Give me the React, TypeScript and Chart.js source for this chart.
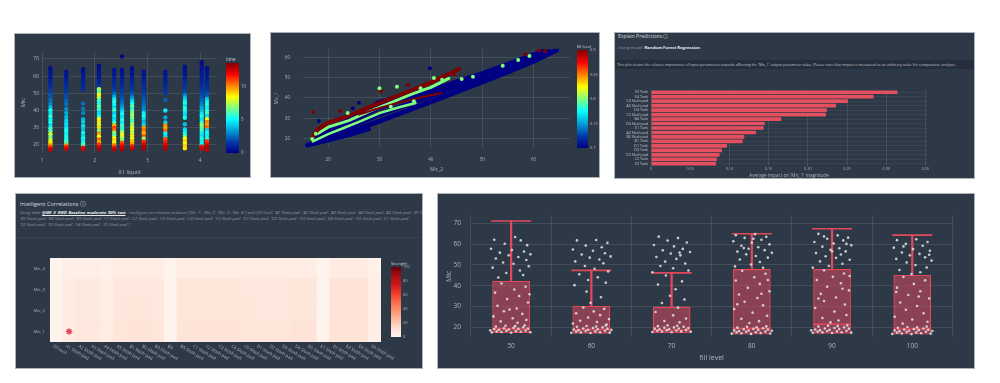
import React, { useEffect, useRef } from 'react';
import { Chart, registerables } from 'chart.js';
Chart.register(...registerables);

// ---------------- Panel 1 data: Mic vs A1 liquid, colored by time ----------------
const A1_LIQUID_POSITIONS = [1.16, 1.46, 1.78, 2.08, 2.37, 2.52, 2.71, 2.93, 3.34, 3.71, 4.03, 4.13];
const COL_1 = [[64.6,0.4],[63.2,0.5],[61.8,0.6],[60.5,0.8],[59.0,0.7],[57.6,1.0],[56.1,1.1],[54.8,1.2],[53.3,1.4],[51.0,1.8],[48.6,2.2],[46.2,2.6],[44.0,3.0],[42.1,3.8],[40.2,5.2],[38.5,4.6],[36.7,5.6],[34.8,4.9],[33.0,5.3],[31.2,4.4],[29.6,5.8],[27.9,6.3],[26.2,8.0],[24.6,6.6],[23.0,7.6],[21.6,8.6],[20.3,9.4],[19.1,10.6],[18.0,11.8],[17.2,12.6]];
const COL_2 = [[62.6,0.5],[61.0,0.7],[59.5,0.6],[58.0,0.9],[56.6,1.0],[55.0,1.2],[53.2,1.3],[51.0,1.6],[48.5,2.0],[46.0,2.4],[43.8,2.7],[41.0,3.1],[38.6,3.6],[36.2,3.9],[34.0,4.3],[32.2,4.7],[30.6,4.5],[29.0,5.0],[27.5,5.4],[26.0,4.8],[24.6,5.6],[23.2,5.2],[22.0,5.9],[20.8,6.2],[19.7,10.2],[18.6,11.5],[17.6,12.4]];
const COL_3 = [[64.0,0.4],[62.6,0.5],[61.2,0.6],[59.8,0.7],[58.3,0.8],[56.8,0.9],[55.4,1.0],[53.8,1.1],[52.2,1.3],[44.0,2.6],[41.0,2.8],[38.5,3.0],[35.0,3.8],[33.4,4.2],[31.0,4.6],[29.2,4.0],[27.0,5.0],[25.3,4.4],[23.8,5.2],[22.4,4.8],[21.0,5.6],[19.6,6.0],[18.4,11.8],[17.5,12.5]];
const COL_4 = [[66.0,0.3],[64.6,0.4],[63.2,0.5],[61.8,0.6],[60.3,0.7],[58.9,0.8],[57.4,0.9],[55.9,1.1],[54.2,1.6],[52.4,7.2],[50.8,6.2],[49.2,8.6],[47.5,7.6],[45.8,6.0],[44.1,5.4],[42.4,6.4],[40.7,5.8],[38.9,4.6],[37.0,5.0],[35.2,8.2],[33.5,8.8],[31.8,7.8],[30.1,9.0],[28.3,6.6],[26.6,10.0],[24.9,8.4],[23.2,10.4],[21.6,9.6],[20.2,11.2],[18.8,12.0],[17.6,12.8]];
const COL_5 = [[63.6,0.5],[62.1,0.6],[60.6,0.7],[59.1,0.9],[57.6,1.0],[56.1,1.1],[54.6,1.3],[53.0,1.5],[51.4,1.8],[49.8,2.5],[48.2,3.5],[46.6,4.8],[45.0,5.6],[43.4,5.0],[41.8,4.4],[40.2,5.8],[38.5,4.2],[36.8,5.0],[35.0,4.5],[33.2,5.4],[31.5,9.4],[30.0,11.0],[28.6,10.4],[27.1,7.0],[25.6,6.4],[24.1,8.6],[22.6,9.0],[21.2,8.2],[19.8,10.2],[18.5,11.6],[17.4,12.8]];
const COL_6 = [[71.4,0.2],[63.6,0.4],[62.1,0.5],[60.6,0.6],[59.1,0.8],[57.6,0.9],[56.0,1.0],[54.4,1.2],[52.8,1.4],[51.2,1.6],[49.6,1.8],[48.0,2.0],[46.4,2.2],[44.8,2.6],[43.0,3.0],[41.3,3.6],[39.6,4.4],[37.9,5.2],[36.2,4.6],[34.5,5.6],[32.8,4.8],[31.1,6.0],[29.4,5.4],[27.7,7.0],[26.0,8.4],[24.4,7.6],[22.8,6.8],[21.3,10.8],[19.9,11.6],[18.6,12.2],[17.5,12.8]];
const COL_7 = [[64.6,0.4],[63.1,0.5],[61.6,0.6],[60.1,0.7],[58.6,0.9],[57.1,1.0],[55.6,1.1],[54.1,1.3],[52.5,1.5],[50.9,1.8],[49.3,2.2],[47.6,3.2],[45.9,4.2],[44.2,5.2],[42.5,6.2],[40.8,5.6],[39.1,6.6],[37.4,7.2],[35.7,6.8],[34.0,6.0],[32.3,7.0],[30.6,7.6],[28.9,8.2],[27.2,7.4],[25.5,8.8],[23.8,8.0],[22.2,9.2],[20.7,9.8],[19.3,11.4],[18.0,12.4]];
const COL_8 = [[62.6,0.5],[61.1,0.6],[59.6,0.7],[58.1,0.8],[56.6,1.0],[55.1,1.1],[53.6,1.3],[52.1,1.4],[50.6,1.6],[49.1,1.8],[47.6,2.0],[46.1,2.2],[44.6,2.4],[43.1,2.6],[41.6,2.9],[40.1,3.2],[38.5,4.8],[36.8,5.4],[35.1,4.6],[33.4,3.8],[31.7,4.4],[30.0,9.8],[28.4,10.4],[26.8,9.4],[25.2,10.8],[23.6,7.0],[22.0,11.2],[20.5,12.0],[19.1,12.6],[17.8,13.0]];
const COL_9 = [[62.6,0.5],[61.1,0.6],[59.6,0.7],[58.1,0.8],[56.6,0.9],[55.0,1.0],[53.4,1.2],[51.8,1.4],[50.2,1.6],[46.0,2.4],[40.0,4.8],[36.0,3.6],[33.0,4.4],[31.4,10.0],[29.8,9.6],[28.2,10.6],[26.6,5.0],[25.0,4.6],[23.4,10.8],[21.8,11.4],[20.3,12.0],[18.9,12.4],[17.8,12.8]];
const COL_10 = [[65.5,0.4],[64.0,0.5],[62.5,0.6],[61.0,0.7],[59.5,0.8],[58.0,1.0],[56.5,1.1],[55.0,1.3],[53.5,1.5],[52.0,1.7],[50.5,2.0],[48.9,3.0],[47.3,4.0],[45.7,4.8],[44.1,5.4],[42.5,4.6],[40.9,5.6],[39.2,5.0],[37.5,4.4],[35.8,5.2],[32.0,4.0],[29.0,4.6],[27.2,5.2],[25.4,6.0],[23.8,8.4],[22.2,9.0],[20.7,8.6],[19.3,9.2],[18.0,8.8]];
const COL_11 = [[68.0,0.3],[66.5,0.4],[65.0,0.5],[63.5,0.6],[62.0,0.7],[60.5,0.8],[59.0,0.9],[57.5,1.0],[56.0,1.1],[54.5,1.3],[53.0,1.4],[51.5,1.6],[50.0,1.8],[48.5,2.0],[47.0,2.2],[45.5,2.5],[44.0,2.8],[42.5,3.2],[41.0,3.6],[39.4,4.0],[37.8,4.8],[36.2,5.4],[34.6,4.6],[33.0,5.6],[31.4,7.2],[29.8,6.4],[28.2,5.8],[26.6,5.0],[25.0,4.6],[23.4,5.4],[21.8,4.8],[20.4,5.2],[19.1,11.6],[17.9,12.4]];
const COL_12 = [[64.6,0.4],[63.1,0.5],[61.6,0.6],[60.1,0.7],[58.6,0.8],[57.1,0.9],[55.6,1.1],[54.1,1.3],[52.6,1.5],[51.1,1.7],[49.6,2.0],[48.1,2.4],[46.5,4.2],[44.9,5.0],[43.3,5.6],[41.7,4.8],[40.1,5.4],[38.5,6.0],[36.9,4.6],[35.0,8.6],[33.4,10.2],[31.8,9.8],[30.2,10.6],[28.6,4.4],[27.0,5.2],[25.4,4.8],[23.8,5.4],[22.2,11.0],[20.7,11.8],[19.3,12.4],[18.0,13.0],[17.2,12.6]];
const P1_COLUMNS = [COL_1, COL_2, COL_3, COL_4, COL_5, COL_6, COL_7, COL_8, COL_9, COL_10, COL_11, COL_12];
const TIME_MAX = 13.6;
const TIME_TICKS = [0, 5, 10];

// ---------------- Panel 2 data: Mic_1 vs Mic_2, colored by fill level ----------------
const BLUE_BAND_LOW = [[16,16.8],[20,19.4],[25,24],[30,28.6],[35,33.4],[40,38.2],[45,43],[50,47.9],[55,52.8],[60,58],[64.5,63.6]];
const BLUE_BAND_MID = [[17,18.5],[20,21.6],[25,26.6],[30,31.8],[35,36.4],[40,41],[45,45.6],[50,50.2],[55,54.8],[60,59.6],[63,62.8]];
const BLUE_BAND_HIGH = [[18,20.6],[20,23.4],[25,29.4],[30,35.2],[35,39.6],[40,43.6],[45,47.8],[50,52],[55,56.5],[60,61.2],[62,63]];
const BLUE_BAND_FLAT = [[17.5,17.8],[20,19.1],[24,21.6],[28,24.6]];
const BLUE_BAND_BLOB = [[22,26.5],[26,31.5],[30,37.6],[34,40.5],[38,43]];
const GREEN_BAND_INNER = [[17,18.6],[20,22.2],[23,25.2],[26,28.2],[30,32.5],[34,35.5],[37,37.5]];
const GREEN_BAND_UPPER = [[18,22.5],[20,25.6],[24,28.8],[28,33.4],[32,37.4],[36,41.6],[40,45.2],[43.5,49.6]];
const RED_BAND_UPPER = [[17,21],[18,24.5],[20,27.8],[23.5,30.6],[28,35.5],[34.5,42],[40,47.5],[45.5,54.2]];
const RED_BAND_INNER = [[26,31.8],[30,35],[34,37.9],[38,40.2],[42,42.4]];
const FILL_OUTLIERS = [[17.1,33,0.9],[18.2,28.6,0.7],[26,37.6,0.7],[30.3,43.2,0.9],[30,44.7,0.8],[33.4,45.5,0.8],[35.5,46.4,0.9],[39.8,54.6,0.7],[40.6,49.8,0.8],[42.2,48.9,0.8],[44.5,51.8,0.9],[38,44.8,0.8],[22.4,33.5,0.9],[24.8,34.9,0.7],[23.8,32.6,0.8],[19.5,27.1,0.9],[16.9,19.8,0.8],[17.6,22.4,0.8],[54,55.8,0.8],[57,58.6,0.8],[59.2,60.6,0.8],[61,63.4,0.9],[62.2,63.1,0.9],[58.4,61.5,0.9],[46,49.3,0.8],[48.2,50.4,0.8],[36.7,38.4,0.8],[32.2,35.6,0.8]];
const FILL_MIN = 0.7;
const FILL_MAX = 0.9;
const FILL_TICKS = [0.7, 0.75, 0.8, 0.85, 0.9];

// ---------------- Panel 3 data: feature importance ----------------
const FEATURES = ['E3 Tank','E4 Tank','C3 Slosh pad','A3 Slosh pad','D4 Tank','C2 Slosh pad','B4 Tank','D4 Slosh pad','E1 Tank','A2 Slosh pad','B2 Slosh pad','B1 Tank','D1 Tank','D3 Tank','D2 Slosh pad','C2 Tank','E2 Tank'];
const IMPACT = [0.3144,0.2838,0.2511,0.2358,0.2243,0.2230,0.1661,0.1449,0.1436,0.1338,0.1189,0.1168,0.0969,0.0905,0.0875,0.0841,0.0828];

// ---------------- Panel 4 data: correlation strength heatmap ----------------
const HEAT_COLS = ['fill level','A1 Slosh pad','A2 Slosh pad','A3 Slosh pad','A4 Slosh pad','A5 Slosh pad','B1 Slosh pad','B2 Slosh pad','B3 Slosh pad','B4','B5 Slosh pad','C1 Slosh pad','C2 Slosh pad','C3 Slosh pad','C4 Slosh pad','C5 Slosh pad','D1 Slosh pad','D2 Slosh pad','D3 Slosh pad','D4 Slosh pad','D5 Slosh pad','E1 Slosh pad','E2 Slosh pad','E3 Slosh pad','E4 Slosh pad','E5 Slosh pad'];
const HEAT_ROWS = ['Mic_1','Mic_2','Mic_3','Mic_4'];
const STRENGTH_MIC_1 = [1,6,8,8,5,9,10,10,9,1,10,10,10,10,10,9,9,9,9,10,10,1,11,11,11,4];
const STRENGTH_MIC_2 = [1,6,7,7,4,8,9,9,8,1,9,9,9,9,9,9,8,8,8,9,9,1,10,10,10,4];
const STRENGTH_MIC_3 = [1,6,7,7,4,8,8,8,8,1,9,9,9,9,9,8,8,8,8,9,9,1,10,10,10,4];
const STRENGTH_MIC_4 = [1,4,4,4,3,5,5,5,5,1,5,5,5,5,5,5,5,5,5,5,5,1,6,6,6,3];
const STRENGTH_ROWS = [STRENGTH_MIC_1, STRENGTH_MIC_2, STRENGTH_MIC_3, STRENGTH_MIC_4];
const STRENGTH_TICKS = [0, 20, 40, 60, 80, 100];
const STAR_CELL = { col: 'A1 Slosh pad', row: 'Mic_1' };

// ---------------- Panel 5 data: Mic by fill level (box + jitter) ----------------
const FILL_LEVEL_CATS = ['50','60','70','80','90','100'];
const BOX_Q1 = [17.3, 17.0, 17.3, 16.6, 17.0, 16.6];
const BOX_Q3 = [42.3, 30.3, 30.0, 48.0, 48.0, 45.2];
const BOX_MEDIAN = [19.3, 19.0, 18.6, 19.5, 21.5, 19.2];
const BOX_MAX = [71.1, 47.4, 46.2, 65.0, 67.4, 64.3];
const JITTER_50 = [[-0.21,62.1],[0.05,63.4],[0.12,61.8],[-0.08,60.2],[0.2,59.5],[-0.25,57.8],[0.01,57.2],[0.16,56.4],[-0.14,55.9],[0.24,55.1],[-0.03,54.6],[0.09,53.8],[-0.19,53.1],[0.19,52.4],[-0.1,51.2],[0.03,50.6],[0.22,49.4],[-0.23,48.7],[0.11,47.3],[-0.06,46.1],[0.15,45.2],[-0.16,44.0],[-0.12,41.1],[0.18,39.5],[0.04,38.2],[-0.2,36.7],[0.1,35.1],[-0.05,33.6],[0.21,32.0],[-0.17,30.4],[0.07,29.1],[-0.09,27.8],[0.14,26.5],[-0.22,25.3],[0.02,24.4],[0.19,23.6],[-0.13,22.9],[0.08,22.2],[-0.02,28.6],[0.23,35.9],[-0.24,17.6],[-0.18,18.1],[-0.12,17.8],[-0.06,18.4],[0.0,17.5],[0.06,18.2],[0.12,17.9],[0.18,18.5],[0.24,17.7],[-0.21,19.2],[-0.15,18.9],[-0.09,19.6],[-0.03,19.0],[0.03,19.8],[0.09,19.3],[0.15,20.1],[0.21,19.5],[-0.19,20.4],[-0.07,20.8],[0.05,20.6],[0.17,21.0],[-0.26,18.6]];
const JITTER_60 = [[-0.18,61.8],[0.06,62.0],[0.2,60.6],[-0.07,59.3],[0.13,58.5],[-0.23,57.4],[0.02,56.8],[0.17,55.6],[-0.12,55.0],[0.24,54.1],[-0.02,53.5],[0.1,52.6],[-0.2,51.7],[0.15,50.8],[-0.08,49.5],[0.04,48.2],[0.21,46.9],[-0.15,45.5],[0.08,44.1],[-0.04,42.8],[0.18,41.5],[-0.21,40.3],[-0.1,29.6],[0.16,28.9],[0.03,27.7],[-0.19,26.8],[0.11,25.9],[-0.04,24.8],[0.22,24.0],[-0.14,23.2],[0.07,22.6],[-0.23,21.9],[0.19,21.4],[-0.01,31.8],[0.12,34.5],[-0.06,37.2],[-0.25,17.4],[-0.19,18.0],[-0.13,17.6],[-0.07,18.3],[-0.01,17.3],[0.05,18.1],[0.11,17.7],[0.17,18.4],[0.23,17.5],[-0.22,19.0],[-0.16,18.7],[-0.1,19.5],[-0.04,18.9],[0.02,19.7],[0.08,19.1],[0.14,20.0],[0.2,19.4],[-0.18,20.3],[-0.06,20.7],[0.06,20.4],[0.18,20.9],[0.25,18.8]];
const JITTER_70 = [[-0.16,63.6],[0.08,62.9],[-0.05,61.7],[0.19,60.8],[-0.22,59.6],[0.03,58.9],[0.14,57.7],[-0.11,57.0],[0.23,56.2],[-0.01,55.5],[0.11,54.6],[-0.19,53.8],[0.06,52.9],[-0.08,51.6],[0.17,50.7],[-0.14,49.5],[0.02,48.4],[0.21,47.3],[-0.24,46.5],[0.1,55.9],[-0.07,44.9],[0.13,42.1],[-0.17,40.6],[0.05,38.3],[-0.02,35.2],[0.16,33.4],[-0.12,31.7],[0.08,29.5],[-0.2,27.4],[0.02,25.8],[0.18,24.3],[-0.09,23.1],[0.1,22.4],[-0.24,17.8],[-0.18,18.4],[-0.12,18.0],[-0.06,18.7],[0.0,17.7],[0.06,18.5],[0.12,18.1],[0.18,18.8],[0.24,17.9],[-0.21,19.4],[-0.15,19.1],[-0.09,19.9],[-0.03,19.2],[0.03,20.0],[0.09,19.5],[0.15,20.3],[0.21,19.7],[-0.17,20.6],[-0.05,21.0],[0.07,20.8]];
const JITTER_80 = [[-0.2,64.3],[0.04,64.8],[0.18,63.5],[-0.09,63.0],[0.12,62.1],[-0.23,61.4],[0.0,60.7],[0.22,59.9],[-0.13,59.2],[0.08,58.5],[-0.04,57.8],[0.16,57.1],[-0.18,56.4],[0.25,55.8],[-0.07,55.1],[0.05,54.3],[0.2,53.5],[-0.15,52.6],[0.1,51.4],[-0.01,50.2],[-0.21,49.3],[0.14,48.6],[-0.1,58.1],[0.02,62.6],[-0.12,47.2],[0.17,45.8],[0.03,44.1],[-0.2,42.5],[0.1,40.9],[-0.05,39.0],[0.22,37.4],[-0.16,35.8],[0.07,34.1],[-0.09,32.3],[0.14,30.6],[-0.22,28.8],[0.01,27.1],[0.19,25.6],[-0.13,24.2],[0.09,23.0],[-0.03,22.1],[0.12,36.2],[-0.18,31.1],[0.2,42.8],[-0.25,17.0],[-0.19,17.6],[-0.13,17.2],[-0.07,17.9],[-0.01,16.9],[0.05,17.7],[0.11,17.3],[0.17,18.0],[0.23,17.1],[-0.22,18.6],[-0.16,18.3],[-0.1,19.1],[-0.04,18.5],[0.02,19.3],[0.08,18.8],[0.14,19.6],[0.2,19.0],[-0.18,19.9],[-0.06,20.3],[0.06,20.1],[0.18,20.5],[0.25,18.4]];
const JITTER_90 = [[-0.17,64.9],[0.07,64.2],[0.2,63.1],[-0.06,62.6],[0.14,61.8],[-0.22,61.0],[0.02,60.3],[0.24,59.5],[-0.12,58.8],[0.09,58.0],[-0.02,57.3],[0.17,56.5],[-0.2,55.7],[0.11,55.0],[-0.08,54.2],[0.05,53.4],[0.22,52.5],[-0.15,51.7],[0.13,50.6],[-0.04,49.5],[-0.24,48.7],[0.18,60.1],[-0.1,63.7],[0.0,56.6],[-0.1,47.4],[0.15,45.9],[0.01,44.3],[-0.19,42.8],[0.11,41.2],[-0.06,39.5],[0.21,37.8],[-0.14,36.1],[0.05,34.4],[-0.1,32.7],[0.16,31.0],[-0.21,29.3],[0.03,27.6],[0.18,26.0],[-0.12,24.5],[0.08,23.3],[-0.02,22.4],[0.13,38.6],[-0.17,33.9],[0.22,44.7],[-0.24,17.4],[-0.18,18.0],[-0.12,17.6],[-0.06,18.3],[0.0,17.3],[0.06,18.1],[0.12,17.7],[0.18,18.4],[0.24,17.5],[-0.21,19.0],[-0.15,18.7],[-0.09,19.5],[-0.03,18.9],[0.03,19.7],[0.09,19.2],[0.15,20.0],[0.21,19.4],[-0.17,20.4],[-0.05,20.8],[0.07,20.6],[0.19,21.0],[-0.26,18.6]];
const JITTER_100 = [[-0.19,61.9],[0.05,62.3],[0.19,61.0],[-0.08,60.1],[0.13,59.2],[-0.23,58.3],[0.01,57.6],[0.22,56.8],[-0.13,56.0],[0.09,55.3],[-0.03,54.6],[0.16,53.7],[-0.2,52.9],[0.24,52.1],[-0.07,51.2],[0.04,50.0],[0.18,48.8],[-0.16,47.6],[0.1,46.5],[-0.01,45.6],[0.21,54.9],[-0.11,58.9],[-0.11,44.2],[0.16,42.6],[0.02,40.9],[-0.19,39.1],[0.1,37.4],[-0.05,35.6],[0.21,33.9],[-0.15,32.0],[0.06,30.3],[-0.08,28.5],[0.14,26.8],[-0.22,25.1],[0.0,23.8],[0.19,22.7],[-0.12,21.8],[0.08,34.8],[-0.2,37.0],[-0.25,16.9],[-0.19,17.5],[-0.13,17.1],[-0.07,17.8],[-0.01,16.8],[0.05,17.6],[0.11,17.2],[0.17,17.9],[0.23,17.0],[-0.22,18.5],[-0.16,18.2],[-0.1,19.0],[-0.04,18.4],[0.02,19.2],[0.08,18.7],[0.14,19.5],[0.2,18.9],[-0.18,19.8],[-0.06,20.2],[0.06,20.0],[0.18,20.4],[0.25,18.3]];
const JITTER = [JITTER_50, JITTER_60, JITTER_70, JITTER_80, JITTER_90, JITTER_100];

// ---------------- styling ----------------
const BG = '#2e3947';
const GRID = 'rgba(255,255,255,0.10)';
const TXT = '#aeb4bc';
const FONT = '"Open Sans", "DejaVu Sans", sans-serif';
const RED = '#e2485b';

const JET: [number, number[]][] = [[0,[0,0,131]],[0.125,[0,60,170]],[0.375,[5,255,255]],[0.625,[255,255,0]],[0.875,[250,0,0]],[1,[128,0,0]]];
const REDS: [number, number[]][] = [[0,[255,245,240]],[0.125,[254,224,210]],[0.25,[252,187,161]],[0.375,[252,146,114]],[0.5,[251,106,74]],[0.625,[239,59,44]],[0.75,[203,24,29]],[0.875,[165,15,21]],[1,[103,0,13]]];

function interp(stops: [number, number[]][], t: number): string {
  const u = Math.max(0, Math.min(1, t));
  for (let i = 1; i < stops.length; i++) {
    if (u <= stops[i][0]) {
      const [t0, c0] = stops[i - 1];
      const [t1, c1] = stops[i];
      const f = (u - t0) / (t1 - t0);
      return 'rgb(' + c0.map((c, k) => Math.round(c + (c1[k] - c) * f)).join(',') + ')';
    }
  }
  return 'rgb(' + stops[stops.length - 1][1].join(',') + ')';
}
const jet = (t: number) => interp(JET, t);
const reds = (t: number) => interp(REDS, t);

type CB = { id: string; x: number; y: number; w: number; h: number; min: number; max: number; ticks: number[]; title: string; colors: (t: number) => string; font: number; fmt?: (v: number) => string };
function colorbar(o: CB): any {
  return {
    id: o.id,
    afterDraw(chart: any) {
      const ctx = chart.ctx;
      ctx.save();
      const g = ctx.createLinearGradient(0, o.y + o.h, 0, o.y);
      for (let i = 0; i <= 40; i++) g.addColorStop(i / 40, o.colors(i / 40));
      ctx.fillStyle = g;
      ctx.fillRect(o.x, o.y, o.w, o.h);
      ctx.fillStyle = TXT;
      ctx.font = `${o.font}px ${FONT}`;
      ctx.textAlign = 'left';
      ctx.textBaseline = 'middle';
      o.ticks.forEach((v) => {
        const yy = o.y + o.h - ((v - o.min) / (o.max - o.min)) * o.h;
        ctx.fillText(o.fmt ? o.fmt(v) : String(v), o.x + o.w + 2, yy);
      });
      ctx.fillStyle = '#d0d4da';
      ctx.textBaseline = 'bottom';
      ctx.fillText(o.title, o.x, o.y - 1);
      ctx.restore();
    },
  };
}

const baseOpts = {
  animation: false,
  responsive: false,
  events: [] as string[],
  plugins: { legend: { display: false }, tooltip: { enabled: false } },
};
const tickFont = (size: number) => ({ size, family: FONT });

// ---------------- configs ----------------
function p1Config(): any {
  return {
    type: 'scatter',
    data: {
      datasets: P1_COLUMNS.map((col, i) => ({
        data: col.map((p) => ({ x: A1_LIQUID_POSITIONS[i], y: p[0] })),
        backgroundColor: col.map((p) => jet(p[1] / TIME_MAX)),
        pointRadius: 2.2,
        borderWidth: 0,
      })),
    },
    options: {
      ...baseOpts,
      layout: { padding: { left: 0, top: 18, right: 33, bottom: 0 } },
      scales: {
        x: {
          type: 'linear', min: 1.0, max: 4.32,
          afterFit: (s: any) => { s.height = 24; },
          grid: { color: GRID, drawTicks: false }, border: { display: false },
          ticks: { stepSize: 1, includeBounds: false, color: TXT, font: tickFont(5), padding: 5 },
          title: { display: true, text: 'A1 liquid', color: TXT, font: tickFont(5.5), padding: { top: 0, bottom: 1.5 } },
        },
        y: {
          type: 'linear', min: 15.3, max: 74,
          afterFit: (s: any) => { s.width = 27; },
          grid: { color: GRID, drawTicks: false }, border: { display: false },
          ticks: { stepSize: 10, includeBounds: false, color: TXT, font: tickFont(5), padding: 3 },
          title: { display: true, text: 'Mic', color: TXT, font: tickFont(5.5), padding: { top: 5, bottom: 0 } },
        },
      },
    },
    plugins: [colorbar({ id: 'cb1', x: 211, y: 29, w: 13, h: 90, min: 0, max: TIME_MAX, ticks: TIME_TICKS, title: 'time', colors: jet, font: 4.5 })],
  };
}

function bandDs(pts: number[][], fill: number, width: number): any {
  return {
    data: pts.map(([x, y]) => ({ x, y })),
    showLine: true,
    borderColor: jet((fill - FILL_MIN) / (FILL_MAX - FILL_MIN)),
    borderWidth: width,
    borderCapStyle: 'round',
    borderJoinStyle: 'round',
    pointRadius: 0,
    fill: false,
  };
}

function p2Config(): any {
  return {
    type: 'scatter',
    data: {
      datasets: [
        {
          data: FILL_OUTLIERS.map(([x, y]) => ({ x, y })),
          backgroundColor: FILL_OUTLIERS.map((p) => jet((p[2] - FILL_MIN) / (FILL_MAX - FILL_MIN))),
          pointRadius: 2, borderWidth: 0,
        },
        bandDs(RED_BAND_UPPER, 0.9, 4),
        bandDs(RED_BAND_INNER, 0.9, 2),
        bandDs(GREEN_BAND_UPPER, 0.8, 3),
        bandDs(GREEN_BAND_INNER, 0.8, 2.5),
        bandDs(BLUE_BAND_BLOB, 0.7, 6),
        bandDs(BLUE_BAND_HIGH, 0.7, 5),
        bandDs(BLUE_BAND_MID, 0.7, 5),
        bandDs(BLUE_BAND_LOW, 0.7, 5),
        bandDs(BLUE_BAND_FLAT, 0.7, 4),
      ],
    },
    options: {
      ...baseOpts,
      layout: { padding: { left: 0, top: 10, right: 29, bottom: 0 } },
      scales: {
        x: {
          type: 'linear', min: 15.1, max: 67.1,
          afterFit: (s: any) => { s.height = 29; },
          grid: { color: GRID, drawTicks: false }, border: { display: false },
          ticks: { stepSize: 10, includeBounds: false, color: TXT, font: tickFont(4.5), padding: 9 },
          title: { display: true, text: 'Mic_2', color: TXT, font: tickFont(5), padding: { top: 0, bottom: 4 } },
        },
        y: {
          type: 'linear', min: 15.35, max: 64.2,
          afterFit: (s: any) => { s.width = 32; },
          grid: { color: GRID, drawTicks: false }, border: { display: false },
          ticks: { stepSize: 10, includeBounds: false, color: TXT, font: tickFont(4.5), padding: 13 },
          title: { display: true, text: 'Mic_1', color: TXT, font: tickFont(4.5), padding: { top: 3, bottom: 0 } },
        },
      },
    },
    plugins: [colorbar({ id: 'cb2', x: 306, y: 17, w: 11, h: 98, min: FILL_MIN, max: FILL_MAX, ticks: FILL_TICKS, title: 'fill level', colors: jet, font: 4 })],
  };
}

function p3Config(): any {
  return {
    type: 'bar',
    data: {
      labels: FEATURES,
      datasets: [{ data: IMPACT, backgroundColor: '#e4505f', barPercentage: 0.82, categoryPercentage: 1 }],
    },
    options: {
      ...baseOpts,
      indexAxis: 'y',
      layout: { padding: { left: 0, top: 17, right: 47, bottom: 0 } },
      scales: {
        x: {
          type: 'linear', min: 0, max: 0.352,
          afterFit: (s: any) => { s.height = 12; },
          grid: { color: GRID, drawTicks: false }, border: { display: false },
          ticks: { stepSize: 0.05, includeBounds: false, color: TXT, font: tickFont(3.8), padding: 1 },
          title: { display: true, text: "Average impact on 'Mic_1' magnitude", color: TXT, font: tickFont(4.6), padding: { top: 0, bottom: 0 } },
        },
        y: {
          afterFit: (s: any) => { s.width = 36; },
          grid: { color: 'rgba(255,255,255,0.05)', drawTicks: false, offset: false }, border: { display: false },
          ticks: { autoSkip: false, color: '#c4c9cf', font: tickFont(3.6), padding: 3 },
        },
      },
    },
  };
}

function p4Config(): any {
  const colLabels = {
    id: 'heatCols',
    afterDraw(chart: any) {
      const xs = chart.scales.x;
      const ctx = chart.ctx;
      ctx.save();
      ctx.fillStyle = TXT;
      ctx.font = `4.3px ${FONT}`;
      ctx.textAlign = 'left';
      ctx.textBaseline = 'middle';
      HEAT_COLS.forEach((lab, i) => {
        const px = xs.getPixelForValue(i);
        ctx.save();
        ctx.translate(px - 3, chart.chartArea.bottom + 4);
        ctx.rotate(Math.PI / 6);
        ctx.fillText(lab, 0, 0);
        ctx.restore();
      });
      ctx.restore();
    },
  };
  return {
    type: 'bar',
    data: {
      labels: HEAT_COLS,
      datasets: [
        {
          type: 'line',
          data: [{ x: STAR_CELL.col, y: HEAT_ROWS.indexOf(STAR_CELL.row) + 0.5 }],
          showLine: false,
          pointStyle: 'star',
          pointRadius: 3.2,
          pointBorderColor: '#e8455a',
          pointBackgroundColor: '#e8455a',
          pointBorderWidth: 1.3,
        },
        ...STRENGTH_ROWS.map((row, r) => ({
          type: 'bar',
          data: row.map(() => [r, r + 1]),
          backgroundColor: row.map((v) => reds(v / 100)),
          borderWidth: 0,
          inflateAmount: 0.7,
          barPercentage: 1,
          categoryPercentage: 1,
          grouped: false,
        })),
      ],
    },
    options: {
      ...baseOpts,
      layout: { padding: { left: 0, top: 20, right: 41, bottom: 0 } },
      scales: {
        x: {
          afterFit: (s: any) => { s.height = 26; },
          grid: { display: false }, border: { display: false },
          ticks: { display: false },
        },
        y: {
          type: 'linear', min: 0, max: 4,
          afterFit: (s: any) => { s.width = 34; },
          afterBuildTicks: (axis: any) => { axis.ticks = [0.5, 1.5, 2.5, 3.5].map((v) => ({ value: v })); },
          grid: { display: false, drawTicks: false }, border: { display: false },
          ticks: { color: TXT, font: tickFont(4.3), padding: 5, callback: (v: number) => HEAT_ROWS[Math.floor(v)] },
        },
      },
    },
    plugins: [colLabels, colorbar({ id: 'cb4', x: 375, y: 29, w: 10, h: 70, min: 0, max: 100, ticks: STRENGTH_TICKS, title: 'Strength', colors: reds, font: 4 })],
  };
}

function p5Config(): any {
  const jitter = JITTER.flatMap((pts, i) => pts.map(([dx, y]) => ({ x: i + dx, y })));
  return {
    type: 'bar',
    data: {
      datasets: [
        { type: 'scatter', data: jitter, order: 0, pointRadius: 1.3, backgroundColor: 'rgba(228,228,228,0.85)', borderWidth: 0 },
        { type: 'line', data: BOX_MEDIAN.map((y, i) => ({ x: i, y })), showLine: false, order: 1, pointStyle: 'line', pointRadius: 19, pointBorderColor: RED, pointBorderWidth: 1.5 },
        { type: 'line', data: BOX_MAX.map((y, i) => ({ x: i, y })), showLine: false, order: 1, pointStyle: 'line', pointRadius: 20, pointBorderColor: RED, pointBorderWidth: 1.6 },
        { type: 'bar', data: BOX_Q3.map((q, i) => ({ x: i, y: [q, BOX_MAX[i]] })), backgroundColor: RED, barThickness: 1.6, grouped: false, order: 2 },
        { type: 'bar', data: BOX_Q1.map((q, i) => ({ x: i, y: [q, BOX_Q3[i]] })), backgroundColor: 'rgba(214,72,92,0.55)', borderColor: RED, borderWidth: 1.3, borderSkipped: false, barPercentage: 0.47, categoryPercentage: 1, grouped: false, order: 3 },
      ],
    },
    options: {
      ...baseOpts,
      layout: { padding: { left: 0, top: 16, right: 13, bottom: 0 } },
      scales: {
        x: {
          type: 'linear', min: -0.5, max: 5.5, offset: false,
          afterFit: (s: any) => { s.height = 31; },
          afterBuildTicks: (axis: any) => { axis.ticks = FILL_LEVEL_CATS.map((_, i) => ({ value: i })); },
          grid: { color: GRID, drawTicks: false }, border: { display: false },
          ticks: { color: TXT, font: tickFont(6.5), padding: 5, callback: (v: number) => FILL_LEVEL_CATS[Math.round(v)] },
          title: { display: true, text: 'fill level', color: TXT, font: tickFont(7), padding: { top: 0, bottom: 6 } },
        },
        y: {
          type: 'linear', min: 15.4, max: 73.7,
          afterFit: (s: any) => { s.width = 33; },
          grid: { color: GRID, drawTicks: false }, border: { display: false },
          ticks: { stepSize: 10, includeBounds: false, color: TXT, font: tickFont(6.5), padding: 10 },
          title: { display: true, text: 'Mic', color: TXT, font: tickFont(7), padding: { top: 7, bottom: 0 } },
        },
      },
    },
  };
}

// ---------------- components ----------------
function ChartCanvas({ x, y, w, h, make }: { x: number; y: number; w: number; h: number; make: () => any }) {
  const ref = useRef<HTMLCanvasElement>(null);
  useEffect(() => {
    const c = new Chart(ref.current as HTMLCanvasElement, make());
    return () => c.destroy();
  }, []);
  return <canvas ref={ref} width={w} height={h} style={{ position: 'absolute', left: x, top: y, width: w, height: h }} />;
}

function Panel({ left, top, w, h, children }: any) {
  return (
    <div style={{ position: 'absolute', left, top, width: w, height: h, boxSizing: 'border-box', border: '1px solid #aeb3b9', background: BG, overflow: 'hidden', fontFamily: FONT }}>
      {children}
    </div>
  );
}

export default function App() {
  return (
    <div style={{ position: 'absolute', left: 0, top: 0, width: 1000, height: 383, background: '#ffffff', overflow: 'hidden' }}>
      <Panel left={14} top={33} w={237} h={145}>
        <ChartCanvas x={0} y={0} w={235} h={143} make={p1Config} />
      </Panel>
      <Panel left={270} top={32} w={330} h={146}>
        <ChartCanvas x={0} y={0} w={328} h={144} make={p2Config} />
      </Panel>
      <Panel left={614} top={32} w={361} h={147}>
        <div style={{ position: 'absolute', left: 3, top: 0, fontSize: 5, lineHeight: '6px', color: '#d5d9de', whiteSpace: 'nowrap' }}>Explain Predictions ⓘ</div>
        <div style={{ position: 'absolute', left: 3, top: 12, fontSize: 4.2, lineHeight: '6px', color: '#8f98a3', whiteSpace: 'nowrap' }}>
          Using model: <b style={{ color: '#e6e9ec' }}>Random Forest Regression</b>
        </div>
        <div style={{ position: 'absolute', left: 0, right: 0, top: 27, height: 9, background: '#252e3a', color: '#c0c6cd', fontSize: 3.7, lineHeight: '9px', paddingLeft: 2, whiteSpace: 'nowrap' }}>
          This plot shows the relative importance of input parameters towards affecting the 'Mic_1' output parameter value. Please note that impact is measured as an arbitrary value for comparative analysis.
        </div>
        <ChartCanvas x={0} y={40} w={359} h={105} make={p3Config} />
      </Panel>
      <Panel left={15} top={193} w={408} h={176}>
        <div style={{ position: 'absolute', left: 4, top: 7, fontSize: 5.5, lineHeight: '6px', color: '#d5d9de', whiteSpace: 'nowrap' }}>Intelligent Correlations ⓘ</div>
        <div style={{ position: 'absolute', left: 4, top: 16, right: 0, fontSize: 4.2, lineHeight: '6px', color: '#8f98a3', fontStyle: 'italic', whiteSpace: 'nowrap', overflow: 'hidden' }}>
          Using data: <b style={{ color: '#e6e9ec', textDecoration: 'underline' }}>@ME_II_RWD_Baseline_moderate_90%_test</b> . Intelligent correlations between ['Mic_1', 'Mic_2', 'Mic_3', 'Mic_4' ] and ['fill level', 'A1 Slosh pad', 'A2 Slosh pad', 'A3 Slosh pad', 'A4 Slosh pad', 'A5 Slosh pad', 'B1 Slosh pad', 'B2 Slosh pad',
        </div>
        <div style={{ position: 'absolute', left: 4, top: 22, right: 0, fontSize: 4.2, lineHeight: '6px', color: '#8f98a3', fontStyle: 'italic', whiteSpace: 'nowrap', overflow: 'hidden' }}>
          'B3 Slosh pad', 'B4 Slosh pad', 'B5 Slosh pad', 'C1 Slosh pad', 'C2 Slosh pad', 'C3 Slosh pad', 'C4 Slosh pad', 'C5 Slosh pad', 'D1 Slosh pad', 'D2 Slosh pad', 'D3 Slosh pad', 'D4 Slosh pad', 'D5 Slosh pad', 'E1 Slosh pad',
        </div>
        <div style={{ position: 'absolute', left: 4, top: 28, right: 0, fontSize: 4.2, lineHeight: '6px', color: '#8f98a3', fontStyle: 'italic', whiteSpace: 'nowrap', overflow: 'hidden' }}>
          'E2 Slosh pad', 'E3 Slosh pad', 'E4 Slosh pad', 'E5 Slosh pad' ]
        </div>
        <div style={{ position: 'absolute', left: 0, right: 0, top: 43, height: 1, background: 'rgba(255,255,255,0.05)' }} />
        <ChartCanvas x={0} y={44} w={406} h={130} make={p4Config} />
      </Panel>
      <Panel left={437} top={193} w={538} h={176}>
        <ChartCanvas x={0} y={0} w={536} h={174} make={p5Config} />
      </Panel>
    </div>
  );
}
